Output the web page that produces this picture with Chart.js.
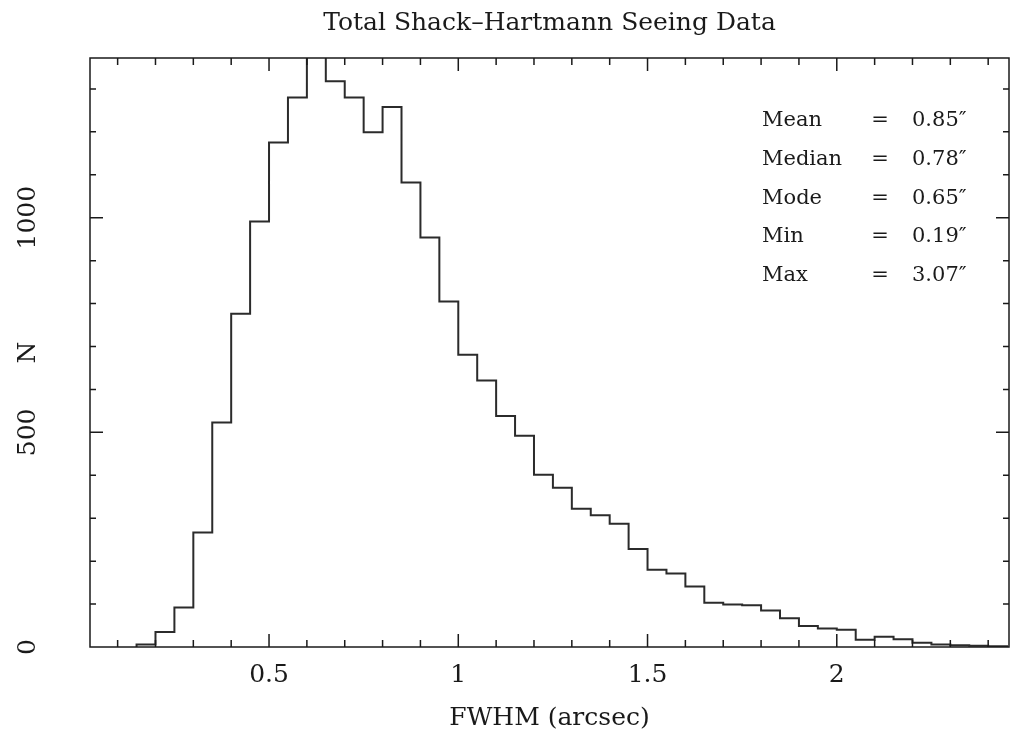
<!DOCTYPE html>
<html>
<head>
<meta charset="utf-8">
<title>Total Shack-Hartmann Seeing Data</title>
<script src="https://cdn.jsdelivr.net/npm/chart.js@4/dist/chart.umd.min.js"></script>
<style>
  html, body { margin: 0; padding: 0; background: #fff; }
  #wrap { width: 1010px; height: 736px; }
</style>
</head>
<body>
<div id="wrap"><canvas id="seeing" width="1010" height="736"></canvas></div>
<script>
// histogram bins (lower edge, arcsec) and counts
const binEdges = [
  0.15, 0.20, 0.25, 0.30, 0.35, 0.40, 0.45, 0.50, 0.55, 0.60,
  0.65, 0.70, 0.75, 0.80, 0.85, 0.90, 0.95, 1.00, 1.05, 1.10,
  1.15, 1.20, 1.25, 1.30, 1.35, 1.40, 1.45, 1.50, 1.55, 1.60,
  1.65, 1.70, 1.75, 1.80, 1.85, 1.90, 1.95, 2.00, 2.05, 2.10,
  2.15, 2.20, 2.25, 2.30, 2.35, 2.40
];
const binWidth = 0.05;
const counts = [
  6, 35, 92, 267, 523, 776, 991, 1175, 1280, 1420,
  1318, 1280, 1199, 1258, 1082, 954, 805, 681, 621, 538,
  492, 401, 371, 322, 307, 287, 228, 180, 171, 141,
  103, 99, 97, 85, 67, 49, 43, 40, 17, 24,
  18, 10, 6, 4, 3, 2
];

const xTickValues = [0.5, 1, 1.5, 2];
const xTickLabels = ["0.5", "1", "1.5", "2"];
const yTickValues = [0, 500, 1000];
const yTickLabels = ["0", "500", "1000"];

const statNames = ["Mean", "Median", "Mode", "Min", "Max"];
const statValues = ["0.85\u2033", "0.78\u2033", "0.65\u2033", "0.19\u2033", "3.07\u2033"];

const FONT = '"DejaVu Serif", "Liberation Serif", serif';
const INK = "#1a1a1a";

// step outline: start at zero, one point per bin, close at the last edge
const points = [{ x: binEdges[0], y: 0 }];
binEdges.forEach((e, i) => points.push({ x: e, y: counts[i] }));
points.push({ x: binEdges[binEdges.length - 1] + binWidth, y: 0 });

const framePlugin = {
  id: "pgframe",
  afterDraw(chart) {
    const { ctx, chartArea: a, scales: { x, y } } = chart;
    ctx.save();
    ctx.strokeStyle = INK;
    ctx.lineWidth = 1.5;
    ctx.strokeRect(a.left, a.top, a.right - a.left, a.bottom - a.top);

    ctx.lineWidth = 1.5;
    ctx.beginPath();
    // x ticks every 0.1, long every 0.5
    for (let i = 1; i <= 24; i++) {
      const px = x.getPixelForValue(i / 10);
      const len = i % 5 === 0 ? 13 : 7;
      ctx.moveTo(px, a.bottom); ctx.lineTo(px, a.bottom - len);
      ctx.moveTo(px, a.top); ctx.lineTo(px, a.top + len);
    }
    // y ticks every 100, long every 500
    for (let i = 1; i <= 13; i++) {
      const py = y.getPixelForValue(i * 100);
      const len = i % 5 === 0 ? 13 : 6;
      ctx.moveTo(a.left, py); ctx.lineTo(a.left + len, py);
      ctx.moveTo(a.right, py); ctx.lineTo(a.right - len, py);
    }
    ctx.stroke();

    ctx.fillStyle = INK;
    ctx.font = "25px " + FONT;
    ctx.textAlign = "center";
    ctx.textBaseline = "alphabetic";
    xTickValues.forEach((v, i) => {
      ctx.fillText(xTickLabels[i], x.getPixelForValue(v), 682);
    });
    ctx.fillText("FWHM (arcsec)", (a.left + a.right) / 2, 725);
    ctx.fillText("Total Shack\u2013Hartmann Seeing Data", (a.left + a.right) / 2, 30);

    // rotated y labels
    const rot = (txt, px, py) => {
      ctx.save();
      ctx.translate(px, py);
      ctx.rotate(-Math.PI / 2);
      ctx.fillText(txt, 0, 0);
      ctx.restore();
    };
    yTickValues.forEach((v, i) => rot(yTickLabels[i], 35, y.getPixelForValue(v)));
    rot("N", 35, (a.top + a.bottom) / 2);

    // statistics block
    ctx.font = "21px " + FONT;
    ctx.textBaseline = "middle";
    statNames.forEach((n, i) => {
      const ty = 121 + i * 38.6;
      ctx.textAlign = "left";
      ctx.fillText(n, 762, ty);
      ctx.textAlign = "center";
      ctx.fillText("=", 880, ty);
      ctx.textAlign = "left";
      ctx.fillText(statValues[i], 912, ty);
    });
    ctx.restore();
  }
};

new Chart(document.getElementById("seeing"), {
  type: "line",
  data: {
    datasets: [{
      data: points,
      stepped: true,
      borderColor: "#2b2b2b",
      borderWidth: 2,
      pointRadius: 0,
      fill: false
    }]
  },
  options: {
    responsive: false,
    animation: false,
    devicePixelRatio: 1,
    layout: { padding: { left: 90, top: 58, right: 1, bottom: 89 } },
    plugins: { legend: { display: false }, tooltip: { enabled: false } },
    scales: {
      x: { type: "linear", min: 0.027, max: 2.455, display: false },
      y: { type: "linear", min: 0, max: 1372, display: false }
    }
  },
  plugins: [framePlugin]
});
</script>
</body>
</html>
